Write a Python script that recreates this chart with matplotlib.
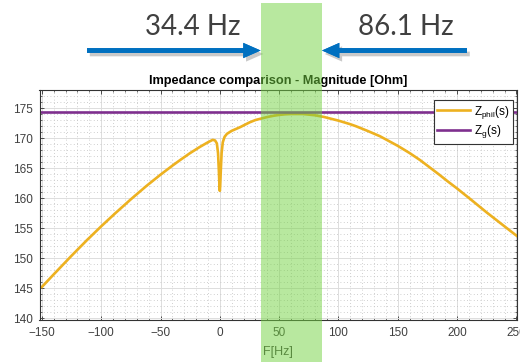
import matplotlib
matplotlib.use("Agg")
import matplotlib.pyplot as plt
import matplotlib.patheffects as pe
from matplotlib.patches import Rectangle
from matplotlib.ticker import MultipleLocator
from matplotlib.transforms import blended_transform_factory

# frequency axis [Hz] and |Z_phil(s)| [Ohm]
freq_hz = [-150, -140, -125, -112, -100, -88, -75, -62, -50, -40, -33, -25,
           -17, -10, -6, -4, -2.5, -1.5, -0.8, -0.3, 0, 0.3, 0.8, 1.5, 2.5,
           4, 6, 10, 17, 25, 30, 34, 40, 45, 50, 55, 60, 65, 70, 75, 80, 88,
           94, 100, 110, 115, 125, 135, 150, 160, 169, 177, 185, 192, 200,
           212, 225, 238, 251]
z_phil = [145.2, 147.3, 150.4, 153.0, 155.3, 157.5, 159.8, 162.0, 163.9,
          165.4, 166.4, 167.5, 168.5, 169.3, 169.7, 169.6, 169.1, 167.5,
          164.5, 162.0, 161.2, 162.0, 164.5, 167.5, 169.3, 170.2, 170.7,
          171.2, 171.8, 172.6, 173.0, 173.2, 173.5, 173.7, 173.85, 173.95,
          174.0, 174.0, 174.0, 173.9, 173.8, 173.5, 173.2, 172.9, 172.3,
          171.95, 171.15, 170.3, 168.7, 167.5, 166.3, 165.1, 163.9, 162.8,
          161.6, 159.7, 157.6, 155.6, 153.6]
# |Z_g(s)| is flat over the whole range
z_g = [174.3, 174.3]
z_g_freq = [-152, 251]

# highlighted frequency band [Hz]
band_hz = [34.4, 86.1]
band_labels = ["34.4 Hz", "86.1 Hz"]

plt.rcParams["font.family"] = ["Liberation Sans", "DejaVu Sans"]
plt.rcParams["mathtext.default"] = "regular"

orange = "#EDB120"
purple = "#7E2F8E"
grey_txt = "#404040"

fig = plt.figure(figsize=(5.2, 3.62), dpi=100)
W, H = 520, 362
ax = fig.add_axes([39.5 / W, 1 - 320 / H, (517 - 39.5) / W, (320 - 90) / H])

ax.plot(freq_hz, z_phil, color=orange, lw=1.9, label=r"$\mathregular{Z_{phil}(s)}$")
ax.plot(z_g_freq, z_g, color=purple, lw=1.9, label=r"$\mathregular{Z_{g}(s)}$")

ax.set_xlim(-152, 250.5)
ax.set_ylim(139.7, 178)
ax.xaxis.set_major_locator(MultipleLocator(50))
ax.xaxis.set_minor_locator(MultipleLocator(10))
ax.yaxis.set_major_locator(MultipleLocator(5))
ax.yaxis.set_minor_locator(MultipleLocator(1))

ax.grid(which="major", color="#dddddd", lw=0.7)
ax.grid(which="minor", color="#c0c0c0", lw=0.6, linestyle=(0, (1, 3)))
ax.set_axisbelow(True)
ax.tick_params(which="both", direction="in", top=True, right=True,
               colors="#333333", labelcolor=grey_txt, labelsize=8.5)
ax.tick_params(which="major", length=3, width=0.6, pad=5)
ax.tick_params(which="minor", length=1.5, width=0.5)
for s in ax.spines.values():
    s.set_color("#333333")
    s.set_linewidth(0.8)

ax.set_title("Impedance comparison - Magnitude [Ohm]", fontsize=9.2,
             fontweight="bold", pad=4)
ax.set_xlabel("F[Hz]", fontsize=9, color=grey_txt, labelpad=5)

leg = ax.legend(loc="upper right", bbox_to_anchor=(0.9916, 0.9565),
                borderaxespad=0, fontsize=8.5, fancybox=False, framealpha=1,
                edgecolor="#333333", handlelength=2.8, handletextpad=0.3,
                borderpad=0.3, labelspacing=0.25)
leg.get_frame().set_linewidth(0.8)

# green band spanning the whole figure height
trans = blended_transform_factory(ax.transData, fig.transFigure)
band = Rectangle((band_hz[0], 0), band_hz[1] - band_hz[0], 1 - 3 / H,
                 transform=trans, facecolor="#73D341", edgecolor="none",
                 alpha=0.5, clip_on=False, zorder=5)
fig.add_artist(band)

# arrows pointing to the band edges
arrow_y = H - 50.5
shadow = [pe.withSimplePatchShadow(offset=(2, -2.5), shadow_rgbFace="#888888", alpha=0.45),
          pe.Normal()]
for edge, tail_px in zip(band_hz, [87, 467]):
    ax.annotate("", xy=(edge, arrow_y), xycoords=("data", "figure pixels"),
                xytext=(tail_px, arrow_y), textcoords="figure pixels",
                annotation_clip=False,
                arrowprops=dict(arrowstyle="simple,head_length=1.25,head_width=1.1,tail_width=0.34",
                                mutation_scale=10, color="#0070C0", lw=0,
                                shrinkA=0, shrinkB=0, path_effects=shadow))

for label, xc in zip(band_labels, [193, 406]):
    fig.text(xc / W, 1 - 27 / H, label, ha="center", va="center",
             fontsize=20, family="Lato", color=grey_txt)

fig.savefig("out.png", dpi=100)
